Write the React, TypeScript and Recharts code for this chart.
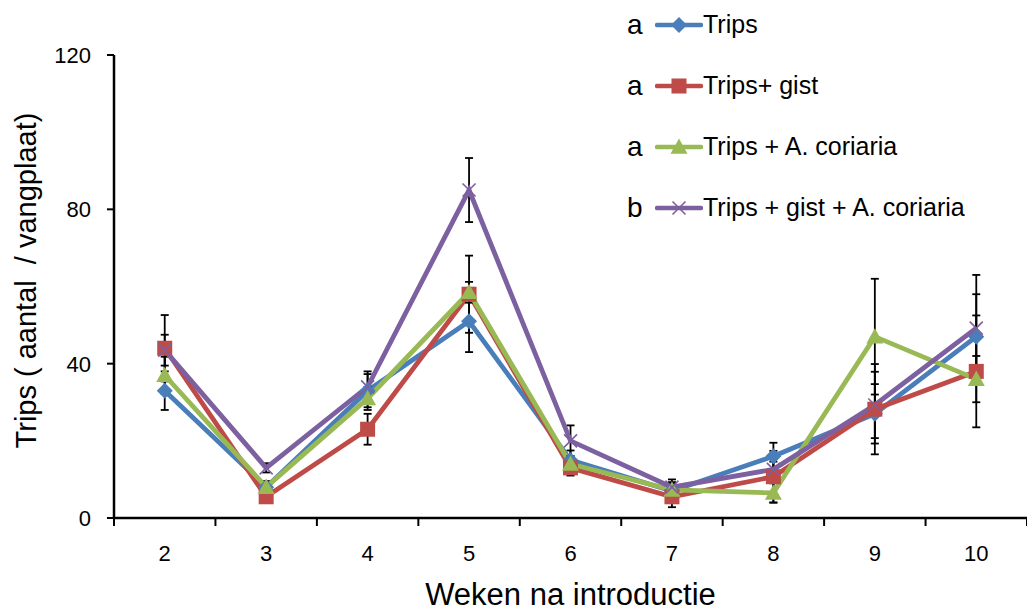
import React from "react";
import { LineChart, Line, XAxis, YAxis, ErrorBar, Legend } from "recharts";

// weeks after introduction
const weeks = ["2", "3", "4", "5", "6", "7", "8", "9", "10"];

const trips = [33, 8, 33, 51, 15, 7, 16, 27, 47];
const tripsErr = [5, 1.5, 4.3, 8, 2.5, 2, 3.5, 7.7, 11];

const tripsGist = [44, 5.5, 23, 58, 13, 5.5, 10.7, 28.2, 38];
const tripsGistErr = [8.6, 1.5, 4, 10, 2, 2.7, 6.7, 11.7, 14.5];

const tripsCor = [37, 8, 31, 58.5, 14, 7.3, 6.5, 47, 36];
const tripsCorErr = [4.8, 1.5, 3, 2.7, 2, 2, 2.5, 15, 6];

const tripsGistCor = [43.5, 13, 34, 85, 20, 8, 12.6, 29.3, 49.2];
const tripsGistCorErr = [4, 1.2, 4, 8.3, 4, 2, 2, 8.6, 13.8];

const yTicks = [0, 40, 80, 120];

const series = [
  { key: "trips", err: "tripsErr", name: "Trips", group: "a", color: "#4A7EBB", marker: "diamond" },
  { key: "gist", err: "gistErr", name: "Trips+ gist", group: "a", color: "#BE4B48", marker: "square" },
  { key: "cor", err: "corErr", name: "Trips + A. coriaria", group: "a", color: "#98B954", marker: "triangle" },
  { key: "gistCor", err: "gistCorErr", name: "Trips + gist + A. coriaria", group: "b", color: "#7D60A0", marker: "x" },
];

const data = weeks.map((w, i) => ({
  week: w,
  trips: trips[i],
  tripsErr: tripsErr[i],
  gist: tripsGist[i],
  gistErr: tripsGistErr[i],
  cor: tripsCor[i],
  corErr: tripsCorErr[i],
  gistCor: tripsGistCor[i],
  gistCorErr: tripsGistCorErr[i],
}));

const FONT = "'Liberation Sans', Arial, sans-serif";

function Marker({ type, cx, cy, color }: { type: string; cx: number; cy: number; color: string }) {
  if (cx == null || cy == null) return null;
  if (type === "diamond") {
    const r = 8;
    return <polygon points={`${cx},${cy - r} ${cx + r},${cy} ${cx},${cy + r} ${cx - r},${cy}`} fill={color} />;
  }
  if (type === "square") {
    const r = 7.5;
    return <rect x={cx - r} y={cy - r} width={r * 2} height={r * 2} fill={color} />;
  }
  if (type === "triangle") {
    const r = 8.5;
    return <polygon points={`${cx},${cy - r} ${cx + r},${cy + r * 0.8} ${cx - r},${cy + r * 0.8}`} fill={color} />;
  }
  const r = 6.5;
  return (
    <g stroke={color} strokeWidth={1.6}>
      <line x1={cx - r} y1={cy - r} x2={cx + r} y2={cy + r} />
      <line x1={cx - r} y1={cy + r} x2={cx + r} y2={cy - r} />
    </g>
  );
}

function WeekTick(props: any) {
  const { x, y, payload, index, visibleTicksCount } = props;
  const half = payload && payload.offset ? payload.offset : 50.7;
  return (
    <g>
      <line x1={x - half} x2={x - half} y1={y} y2={y + 8} stroke="#000" strokeWidth={2} />
      {index === visibleTicksCount - 1 && (
        <line x1={x + half} x2={x + half} y1={y} y2={y + 8} stroke="#000" strokeWidth={2} />
      )}
      <text x={x} y={y + 43} textAnchor="middle" fontSize={22} fontFamily={FONT} fill="#000">
        {payload.value}
      </text>
    </g>
  );
}

function ValueTick(props: any) {
  const { x, y, payload } = props;
  return (
    <text x={x} y={y + 8} textAnchor="end" fontSize={22} fontFamily={FONT} fill="#000">
      {payload.value}
    </text>
  );
}

function YTitle(props: any) {
  const vb = props.viewBox || {};
  const cy = vb.y + vb.height / 2 - 6;
  return (
    <text
      x={36}
      y={cy}
      transform={`rotate(-90, 36, ${cy})`}
      textAnchor="middle"
      fontSize={29}
      fontFamily={FONT}
      fill="#000"
      style={{ whiteSpace: "pre" }}
    >
      {"Trips ( aantal  / vangplaat)"}
    </text>
  );
}

function XTitle(props: any) {
  const vb = props.viewBox || {};
  return (
    <text x={vb.x + vb.width / 2} y={605} textAnchor="middle" fontSize={31} fontFamily={FONT} fill="#000">
      Weken na introductie
    </text>
  );
}

function LegendBox() {
  return (
    <div style={{ fontFamily: FONT, color: "#000" }}>
      {series.map((s) => (
        <div key={s.key} style={{ display: "flex", alignItems: "center", height: 61 }}>
          <span style={{ fontSize: 28, width: 28, marginLeft: 7 }}>{s.group}</span>
          <svg width={48} height={24}>
            <line x1={2} x2={46} y1={12} y2={12} stroke={s.color} strokeWidth={4.5} strokeLinecap="round" />
            <Marker type={s.marker} cx={24} cy={12} color={s.color} />
          </svg>
          <span style={{ fontSize: 25 }}>{s.name}</span>
        </div>
      ))}
    </div>
  );
}

export default function App() {
  return (
    <div style={{ position: "absolute", left: 0, top: 0, background: "#fff" }}>
      <LineChart width={1027} height={611} data={data} margin={{ top: 55, right: 0, bottom: 0, left: 0 }}>
        <XAxis
          dataKey="week"
          scale="band"
          tick={<WeekTick />}
          tickLine={false}
          tickSize={0}
          tickMargin={0}
          height={93}
          axisLine={{ stroke: "#000", strokeWidth: 2.5 }}
          label={<XTitle />}
        />
        <YAxis
          domain={[0, 120]}
          ticks={yTicks}
          width={114}
          tickSize={7}
          tickMargin={16}
          axisLine={{ stroke: "#000", strokeWidth: 2.5 }}
          tickLine={{ stroke: "#000", strokeWidth: 2 }}
          tick={<ValueTick />}
          label={<YTitle />}
        />
        <Legend
          layout="vertical"
          verticalAlign="middle"
          align="center"
          content={<LegendBox />}
          wrapperStyle={{ position: "absolute", top: -6, left: 620, width: 407 }}
        />
        {series.map((s) => (
          <Line
            key={s.key}
            dataKey={s.key}
            name={s.name}
            stroke={s.color}
            strokeWidth={4.8}
            isAnimationActive={false}
            dot={(p: any) => <Marker key={`${s.key}-${p.index}`} type={s.marker} cx={p.cx} cy={p.cy} color={s.color} />}
            activeDot={false}
          >
            <ErrorBar dataKey={s.err} direction="y" width={4} stroke="#000" strokeWidth={1.8} />
          </Line>
        ))}
      </LineChart>
    </div>
  );
}
